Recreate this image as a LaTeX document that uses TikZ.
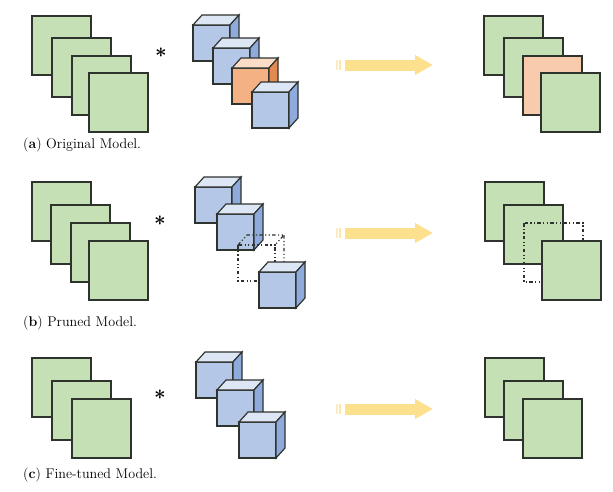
\documentclass[tikz,border=0pt]{standalone}
\usetikzlibrary{arrows.meta}

\definecolor{mapgreen}{HTML}{C5E0B4}
\definecolor{mappeach}{HTML}{F8CBAD}
\definecolor{kblue}{HTML}{B4C7E7}
\definecolor{kblueside}{HTML}{8FAADC}
\definecolor{korange}{HTML}{F4B183}
\definecolor{korangeside}{HTML}{E38A52}
\definecolor{arrowyellow}{HTML}{FCE08E}
\definecolor{edgegray}{HTML}{2E332E}

% feature map, top-left corner at (#2,#3)
\newcommand{\fmap}[3][mapgreen]{\draw[mapline, fill=#1] (#2,#3) rectangle ++(59,59);}
% kernel cube, front top-left corner at (#1,#2)
\newcommand{\kcube}[4]{%
  \draw[mapline, fill=#3] (#1,#2) rectangle ++(37,36);
  \draw[mapline, fill=#3!45!white] (#1,#2) -- ++(9,-10) -- ++(37,0) -- ++(-9,10) -- cycle;
  \draw[mapline, fill=#4] (#1+37,#2) -- ++(9,-10) -- ++(0,36) -- ++(-9,10) -- cycle;}
\newcommand{\gonecube}[2]{%
  \draw[gone] (#1,#2) rectangle ++(37,36);
  \draw[gone] (#1,#2) -- ++(9,-10) -- ++(37,0) -- ++(-9,10);
  \draw[gone] (#1+46,#2-10) -- ++(0,36) -- ++(-9,10);}
\newcommand{\bigarrow}[1]{%
  \coordinate (from#1) at (345,\csname ay#1\endcsname);
  \coordinate (to#1) at (433,\csname ay#1\endcsname);
  \draw[arrowyellow!60!white, line width=1.6pt] ([xshift=-7]from#1) ++(0,-5) -- ++(0,10);
  \draw[arrowyellow!75!white, line width=1.6pt] ([xshift=-4]from#1) ++(0,-5) -- ++(0,10);
  \draw[arrowyellow, line width=0.33cm, -{Triangle[width=0.57cm,length=0.54cm]}] (from#1) -- (to#1);}

\begin{document}
\begin{tikzpicture}[x=0.03cm, y=-0.03cm,
    mapline/.style={line width=1pt, draw=edgegray},
    gone/.style={line width=1pt, draw=edgegray, dash dot dot},
    caption/.style={anchor=west, inner sep=0pt, font=\fontsize{12}{14}\selectfont},
    conv/.style={font=\boldmath\fontsize{18}{18}\selectfont}]
\useasboundingbox (0,0) rectangle (613,491);
\def\aya{65}\def\ayb{233}\def\ayc{409}

% (a) original
\fmap{32}{16} \fmap{52}{38} \fmap{72}{56} \fmap{89}{73}
\node[conv] (opa) at (161,53) {$\ast$};
\kcube{193}{25}{kblue}{kblueside}
\kcube{213}{48}{kblue}{kblueside}
\kcube{232}{68}{korange}{korangeside}
\kcube{252}{92}{kblue}{kblueside}
\bigarrow{a}
\fmap{484}{16} \fmap{504}{38} \fmap[mappeach]{523}{56} \fmap{541}{73}
\node[caption] (capa) at (23,145) {(\textbf{a}) Original Model.};

% (b) pruned
\fmap{32}{182} \fmap{51}{205} \fmap{71}{223} \fmap{89}{241}
\node[conv] (opb) at (160,221) {$\ast$};
\kcube{195}{187}{kblue}{kblueside}
\kcube{217}{214}{kblue}{kblueside}
\gonecube{238}{245}
\kcube{259}{272}{kblue}{kblueside}
\bigarrow{b}
\fmap{485}{182} \fmap{504}{205}
\draw[gone] (524,223) rectangle ++(59,59);
\fmap{542}{241}
\node[caption] (capb) at (23,323) {(\textbf{b}) Pruned Model.};

% (c) fine-tuned
\fmap{32}{358} \fmap{52}{381} \fmap{72}{399}
\node[conv] (opc) at (160,395) {$\ast$};
\kcube{196}{362}{kblue}{kblueside}
\kcube{217}{390}{kblue}{kblueside}
\kcube{239}{422}{kblue}{kblueside}
\bigarrow{c}
\fmap{485}{358} \fmap{504}{381} \fmap{523}{399}
\node[caption] (capc) at (23,475) {(\textbf{c}) Fine-tuned Model.};
\end{tikzpicture}
\end{document}
